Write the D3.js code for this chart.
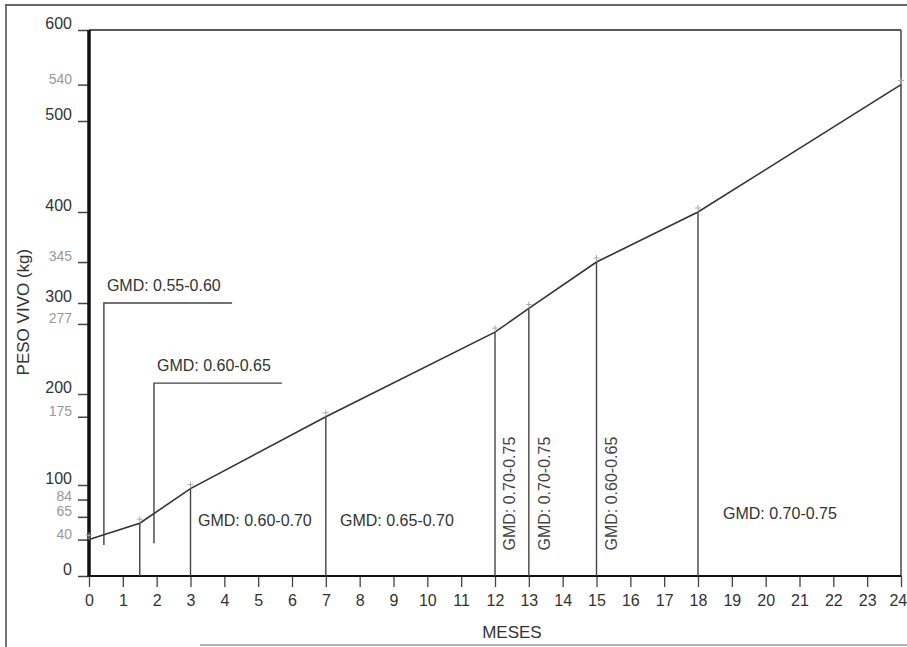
<!DOCTYPE html>
<html>
<head>
<meta charset="utf-8">
<script src="https://cdn.jsdelivr.net/npm/d3@7"></script>
<style>
  body { margin: 0; background: #fff; }
  svg text { font-family: "Liberation Sans", Arial, sans-serif; }
</style>
</head>
<body>
<svg id="chart" width="907" height="647"></svg>
<script>
// --- Data ---
const months = [0, 1.5, 3, 7, 12, 13, 15, 18, 24];
const weights = [40, 58, 96, 175, 268, 294, 345, 400, 540];

const monthTicks = [0, 1, 2, 3, 4, 5, 6, 7, 8, 9, 10, 11, 12, 13, 14, 15, 16, 17, 18, 19, 20, 21, 22, 23, 24];
const weightTicks = [0, 40, 65, 84, 100, 175, 200, 277, 300, 345, 400, 500, 540, 600];
const faintWeightTicks = [40, 65, 84, 175, 277, 345, 540];

// months where a line drops from the curve to the axis
const dropMonths = [1.5, 3, 7, 12, 13, 15, 18];

// bracket annotations: vertical at month, from weight lo up to hi, then across to month end
const bracketMonths = [0.44, 1.92];
const bracketLow = [34, 36];
const bracketHigh = [300, 212];
const bracketEnd = [4.23, 5.7];
const bracketLabels = ["GMD: 0.55-0.60", "GMD: 0.60-0.65"];

// horizontal GMD labels (start month, weight at text middle)
const flatLabels = ["GMD: 0.60-0.70", "GMD: 0.65-0.70", "GMD: 0.70-0.75"];
const flatMonths = [3.22, 7.42, 18.74];
const flatWeights = [61, 61, 69];

// rotated GMD labels (baseline month, start weight)
const vertLabels = ["GMD: 0.70-0.75", "GMD: 0.70-0.75", "GMD: 0.60-0.65"];
const vertMonths = [12.59, 13.63, 15.61];
const vertWeights = [28, 28, 28];

// --- Scales ---
const svg = d3.select("#chart");
const x = d3.scaleLinear().domain([0, 24]).range([89, 901]);
const y = d3.scaleLinear().domain([0, 600]).range([576, 30]);

const points = months.map((m, i) => [m, weights[i]]);
const weightAt = d3.scaleLinear().domain(months).range(weights);

// outer scan frame
svg.append("line").attr("x1", 6).attr("y1", 5).attr("x2", 6).attr("y2", 647)
  .attr("stroke", "#666").attr("stroke-width", 1.8);
svg.append("line").attr("x1", 5).attr("y1", 5).attr("x2", 907).attr("y2", 5)
  .attr("stroke", "#666").attr("stroke-width", 1.8);
svg.append("line").attr("x1", 200).attr("y1", 645).attr("x2", 907).attr("y2", 645)
  .attr("stroke", "#999").attr("stroke-width", 1.5);

// plot frame top and right
svg.append("line").attr("x1", x(0)).attr("y1", y(600)).attr("x2", x(24)).attr("y2", y(600))
  .attr("stroke", "#222").attr("stroke-width", 1.5);
svg.append("line").attr("x1", x(24)).attr("y1", y(600)).attr("x2", x(24)).attr("y2", y(0))
  .attr("stroke", "#444").attr("stroke-width", 1.5);

// --- Axes ---
const yAxis = svg.append("g").attr("transform", `translate(${x(0) - 1},0)`)
  .call(d3.axisLeft(y).tickValues(weightTicks).tickSize(10).tickPadding(6).tickFormat(d3.format("d")));
yAxis.select(".domain").remove();
yAxis.selectAll(".tick line").attr("stroke", "#444").attr("stroke-width", 1.5);
yAxis.selectAll(".tick text")
  .attr("dy", (d) => (d === 84 ? "0.05em" : "-0.1em"))
  .style("font-size", (d) => (faintWeightTicks.includes(d) ? "14px" : "16px"))
  .attr("fill", (d) => (faintWeightTicks.includes(d) ? "#999" : "#333"));

const xAxis = svg.append("g").attr("transform", `translate(0,${y(0)})`)
  .call(d3.axisBottom(x).tickValues(monthTicks).tickSize(11).tickPadding(8));
xAxis.select(".domain").remove();
xAxis.selectAll(".tick line").attr("stroke", "#444").attr("stroke-width", 1.3);
xAxis.selectAll(".tick text").style("font-size", "16px").attr("fill", "#333")
  .attr("dx", (d) => (d === 24 ? "-0.2em" : 0));

// thick axis lines
svg.append("line").attr("x1", x(0)).attr("y1", y(600)).attr("x2", x(0)).attr("y2", y(0) + 1)
  .attr("stroke", "#111").attr("stroke-width", 3.5);
svg.append("line").attr("x1", x(0)).attr("y1", y(0)).attr("x2", x(24)).attr("y2", y(0))
  .attr("stroke", "#111").attr("stroke-width", 2.2);

// axis titles
svg.append("text")
  .attr("transform", `translate(29,${y(290)}) rotate(-90)`)
  .attr("text-anchor", "middle")
  .style("font-size", "17px").attr("fill", "#333")
  .text("PESO VIVO (kg)");
svg.append("text")
  .attr("x", x(12.5)).attr("y", 638)
  .attr("text-anchor", "middle")
  .style("font-size", "17px").attr("fill", "#333")
  .text("MESES");

// --- Drop lines ---
svg.selectAll(".drop").data(dropMonths).enter().append("line")
  .attr("class", "drop")
  .attr("x1", (d) => x(d)).attr("x2", (d) => x(d))
  .attr("y1", (d) => y(weightAt(d))).attr("y2", y(0))
  .attr("stroke", "#444").attr("stroke-width", 1.4);

// --- Brackets ---
bracketMonths.forEach((m, i) => {
  svg.append("path")
    .attr("d", `M${x(m)},${y(bracketLow[i])}V${y(bracketHigh[i])}H${x(bracketEnd[i])}`)
    .attr("fill", "none").attr("stroke", "#444").attr("stroke-width", 1.4);
  svg.append("text")
    .attr("x", x(m) + 3).attr("y", y(bracketHigh[i]) - 12)
    .style("font-size", "16px").attr("fill", "#333")
    .text(bracketLabels[i]);
});

// --- Growth curve ---
svg.append("path")
  .datum(points)
  .attr("d", d3.line().x((d) => x(d[0])).y((d) => y(d[1])))
  .attr("fill", "none").attr("stroke", "#333").attr("stroke-width", 1.6);

// small point marks
svg.selectAll(".mark").data(points).enter().append("path")
  .attr("class", "mark")
  .attr("d", (d) => `M${x(d[0]) - 3},${y(d[1]) - 4}h6M${x(d[0])},${y(d[1]) - 7}v7`)
  .attr("stroke", "#aaa").attr("stroke-width", 1);

// --- GMD labels ---
flatLabels.forEach((t, i) => {
  svg.append("text")
    .attr("x", x(flatMonths[i])).attr("y", y(flatWeights[i]))
    .attr("dy", "0.35em")
    .style("font-size", "16px").attr("fill", "#333")
    .text(t);
});
vertLabels.forEach((t, i) => {
  svg.append("text")
    .attr("transform", `translate(${x(vertMonths[i])},${y(vertWeights[i])}) rotate(-90)`)
    .style("font-size", "16px").attr("fill", "#444")
    .text(t);
});
</script>
</body>
</html>
